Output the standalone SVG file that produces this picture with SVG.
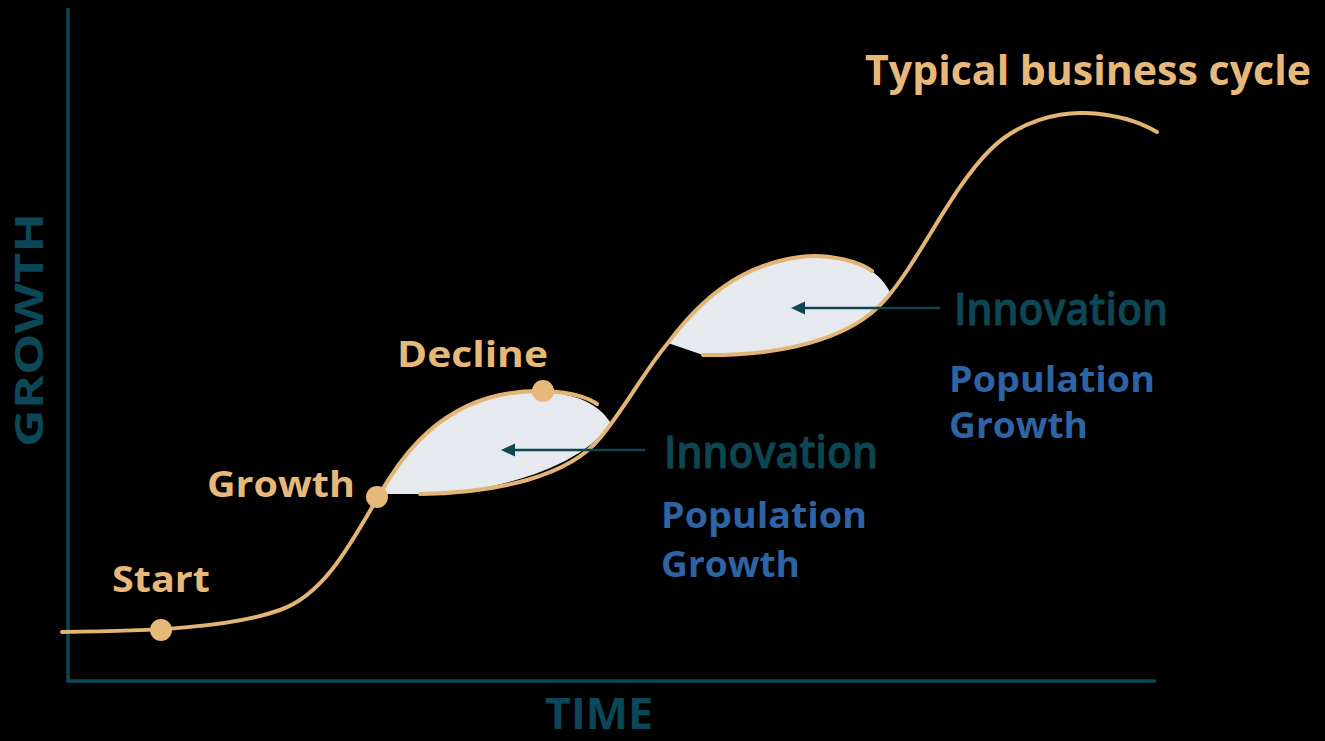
<svg xmlns="http://www.w3.org/2000/svg" width="1325" height="741" viewBox="0 0 1325 741">
<style>
.gold{fill:#e6b97a;font-family:"Open Sans",Lato,sans-serif;font-weight:bold}
.curve{fill:none;stroke:#e3b574;stroke-width:4;stroke-linecap:round}
.leaf{fill:#e6e9ed}
.dot{fill:#e6b97a}
.inno{fill:#0e4654;font-family:"Open Sans",Lato,sans-serif;font-weight:600;font-size:45px;stroke:#0e4654;stroke-width:0.9}
.pop{fill:#2e63a4;font-family:"Open Sans",Lato,sans-serif;font-weight:bold;font-size:35px}
.axislbl{fill:#0b4756;font-family:"Open Sans",Lato,sans-serif;font-weight:bold}
.axis{stroke:#0b4756;stroke-width:3.5;fill:none}
.arrow{stroke:#0e4654;stroke-width:2.5;fill:none}
.head{fill:#0e4654}
</style>
<rect width="1325" height="741" fill="#000"/>
<g id="axes">
<path class="axis" d="M68,8 V681 H1156"/>
<text class="axislbl" font-size="40" textLength="234" lengthAdjust="spacingAndGlyphs" x="-447" y="43" transform="rotate(-90)">GROWTH</text>
<text class="axislbl" font-size="43" x="545" y="729" textLength="108" lengthAdjust="spacingAndGlyphs">TIME</text>
</g>
<g id="leaves">
<path class="leaf" d="M380,494 C400,462 430,410 500,395 C545,387 592,393 610,422 C590,462 500,494 420,494 Z"/>
<path class="leaf" d="M668,343 C700,300 740,265 800,257 C835,252 875,262 890,292 C860,340 780,356 703,355 Z"/>
</g>
<g id="connectors">
<path class="curve" d="M62,632 C150,631 230,628 280,610 C320,596 345,555 378,497 C395,467 430,410 500,395 C540,387 580,392 597,404"/>
<path class="curve" d="M420,494 C500,493 570,475 600,438 C625,408 645,370 668,343 C700,300 740,265 800,257 C830,253 860,262 872,271"/>
<path class="curve" d="M703,355 C780,356 850,340 885,300 C920,260 950,190 990,150 C1020,120 1060,112 1085,113 C1115,114 1140,122 1157,132"/>
<line class="arrow" x1="645" y1="450" x2="512" y2="450"/>
<polygon class="head" points="501,450 515,443.5 515,456.5"/>
<line class="arrow" x1="940" y1="308" x2="802" y2="308"/>
<polygon class="head" points="791,308 805,301.5 805,314.5"/>
</g>
<g id="start">
<circle class="dot" cx="161" cy="630" r="11"/>
<text class="gold" font-size="35" x="112" y="592" textLength="98" lengthAdjust="spacingAndGlyphs">Start</text>
</g>
<g id="growth">
<circle class="dot" cx="377" cy="497" r="11"/>
<text class="gold" font-size="35" x="207" y="497" textLength="148" lengthAdjust="spacingAndGlyphs">Growth</text>
</g>
<g id="decline">
<circle class="dot" cx="543" cy="391" r="11"/>
<text class="gold" font-size="35" x="397" y="367" textLength="151" lengthAdjust="spacingAndGlyphs">Decline</text>
</g>
<g id="title">
<text class="gold" font-size="42" x="865" y="85" textLength="446" lengthAdjust="spacingAndGlyphs">Typical business cycle</text>
</g>
<g id="innovation1">
<text class="inno" x="664" y="468" textLength="214" lengthAdjust="spacingAndGlyphs">Innovation</text>
</g>
<g id="population1">
<text class="pop" x="661" y="528" textLength="206" lengthAdjust="spacingAndGlyphs">Population</text>
<text class="pop" x="661" y="577" textLength="139" lengthAdjust="spacingAndGlyphs">Growth</text>
</g>
<g id="innovation2">
<text class="inno" x="954" y="325" textLength="214" lengthAdjust="spacingAndGlyphs">Innovation</text>
</g>
<g id="population2">
<text class="pop" x="949" y="392" textLength="206" lengthAdjust="spacingAndGlyphs">Population</text>
<text class="pop" x="949" y="438" textLength="139" lengthAdjust="spacingAndGlyphs">Growth</text>
</g>
</svg>
